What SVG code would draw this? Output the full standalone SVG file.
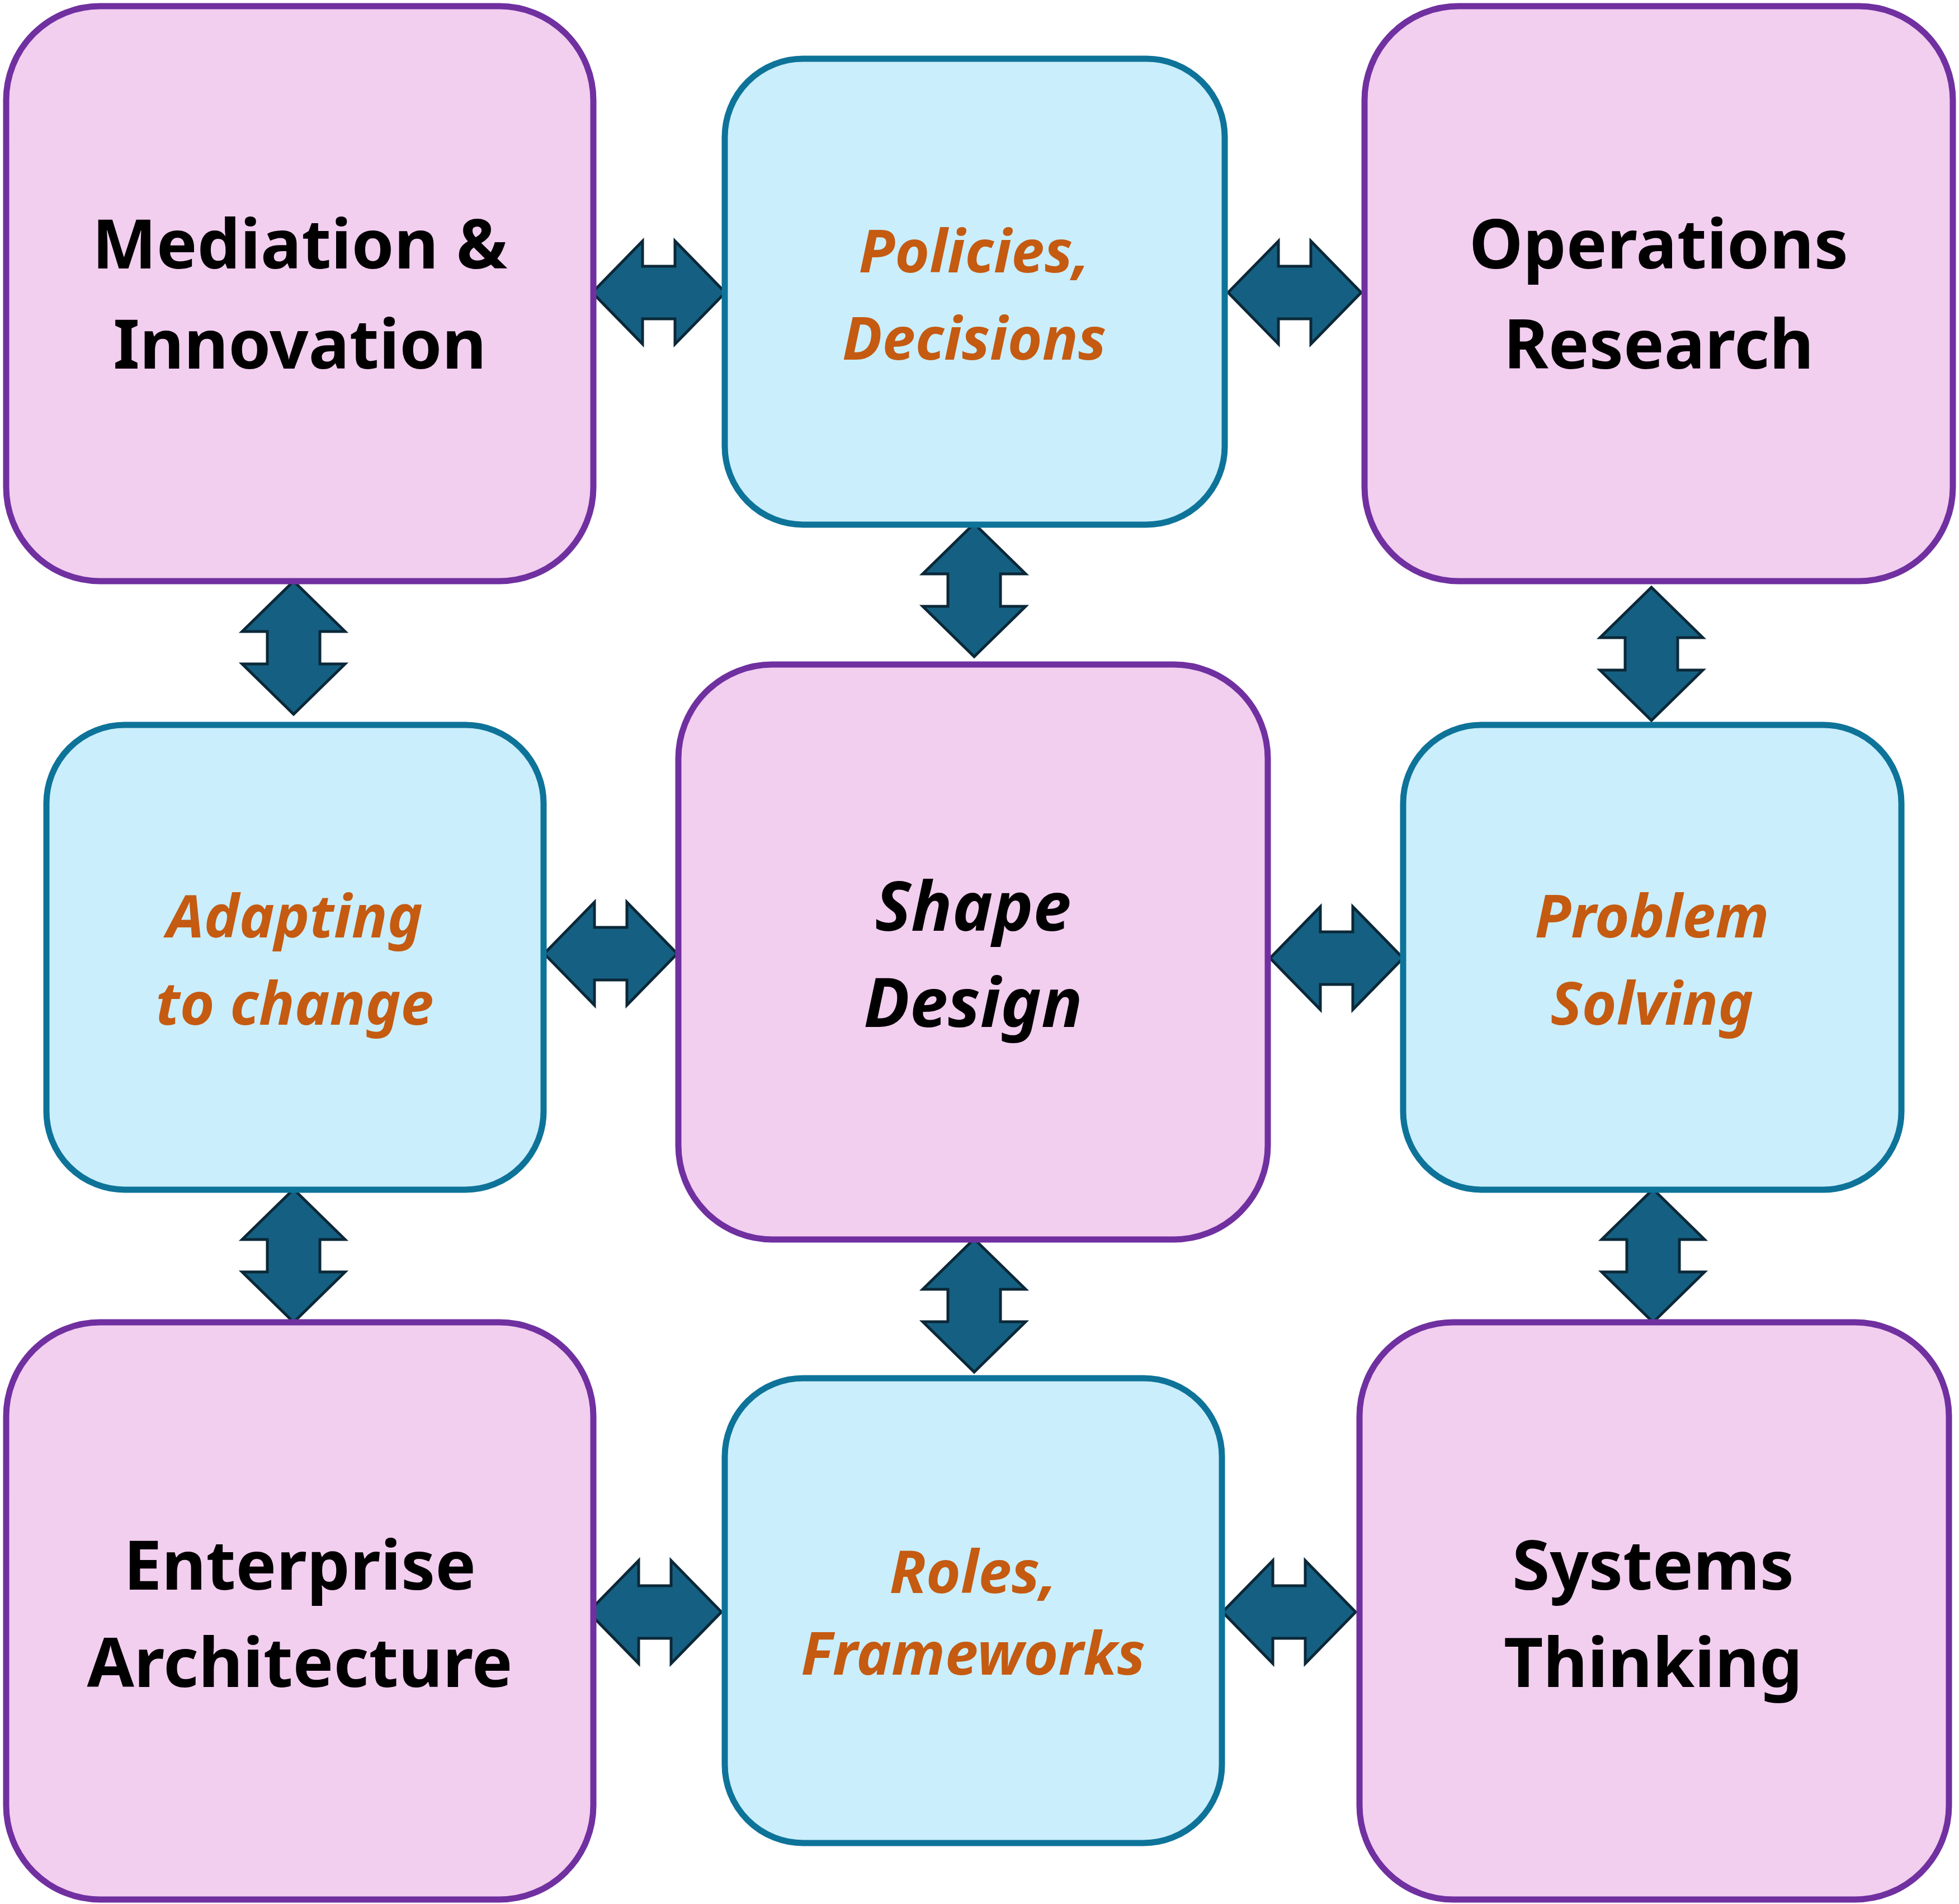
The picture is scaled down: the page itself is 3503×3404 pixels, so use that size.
<svg xmlns="http://www.w3.org/2000/svg" width="3503" height="3404" viewBox="0 0 3503 3404">
<style>
.p{fill:#F2CEEF;stroke:#7030A0;stroke-width:11}
.b{fill:#CAEEFB;stroke:#0E7399;stroke-width:11}
.t{font-family:"Noto Sans","Open Sans",sans-serif;font-weight:bold;text-anchor:middle;font-size:122px;fill:#000}
.o{font-family:"Noto Sans","Open Sans",sans-serif;font-weight:bold;font-style:italic;text-anchor:middle;font-size:106px;fill:#C55A11}
.s{font-family:"Noto Sans","Open Sans",sans-serif;font-weight:bold;font-style:italic;text-anchor:middle;font-size:122px;fill:#000}
.a{fill:#156082;stroke:#0B2838;stroke-width:5;stroke-linejoin:miter}
</style>
<defs>
<path id="arr" d="M-119,0 L-29,-92 L-29,-47 L29,-47 L29,-92 L119,0 L29,92 L29,47 L-29,47 L-29,92 Z"/>
</defs>
<g id="connectors" class="a">
<use href="#arr" transform="translate(1178,523)"/>
<use href="#arr" transform="translate(2315,523)"/>
<use href="#arr" transform="translate(525,1158) rotate(90)"/>
<use href="#arr" transform="translate(1742,1055) rotate(90)"/>
<use href="#arr" transform="translate(2953,1169) rotate(90)"/>
<use href="#arr" transform="translate(1092,1705)"/>
<use href="#arr" transform="translate(2390,1713)"/>
<use href="#arr" transform="translate(525,2245) rotate(90)"/>
<use href="#arr" transform="translate(1742,2334) rotate(90)"/>
<use href="#arr" transform="translate(2956,2245) rotate(90)"/>
<use href="#arr" transform="translate(1171,2882)"/>
<use href="#arr" transform="translate(2305,2882)"/>
</g>
<g id="mediation"><rect class="p" x="11" y="11" width="1050" height="1028" rx="168"/><text class="t" x="536" y="480">Mediation &amp;</text><text class="t" x="536" y="659">Innovation</text></g>
<g id="policies"><rect class="b" x="1296" y="105" width="894" height="833" rx="140"/><text class="o" x="1742" y="487">Policies,</text><text class="o" x="1742" y="643">Decisions</text></g>
<g id="operations"><rect class="p" x="2440" y="11" width="1052" height="1028" rx="168"/><text class="t" x="2966" y="480">Operations</text><text class="t" x="2966" y="659">Research</text></g>
<g id="adapting"><rect class="b" x="83" y="1296" width="889" height="831" rx="140"/><text class="o" x="527" y="1676">Adapting</text><text class="o" x="527" y="1832">to change</text></g>
<g id="shape"><rect class="p" x="1213" y="1188" width="1054" height="1028" rx="168"/><text class="s" x="1740" y="1664">Shape</text><text class="s" x="1740" y="1836">Design</text></g>
<g id="problem"><rect class="b" x="2509" y="1296" width="891" height="831" rx="140"/><text class="o" x="2954" y="1676">Problem</text><text class="o" x="2954" y="1832">Solving</text></g>
<g id="enterprise"><rect class="p" x="11" y="2364" width="1050" height="1032" rx="168"/><text class="t" x="536" y="2842">Enterprise</text><text class="t" x="536" y="3016">Architecture</text></g>
<g id="roles"><rect class="b" x="1296" y="2464" width="889" height="831" rx="140"/><text class="o" x="1740" y="2848">Roles,</text><text class="o" x="1740" y="2994">Frameworks</text></g>
<g id="systems"><rect class="p" x="2431" y="2364" width="1054" height="1032" rx="168"/><text class="t" x="2956" y="2842">Systems</text><text class="t" x="2956" y="3016">Thinking</text></g>
</svg>
